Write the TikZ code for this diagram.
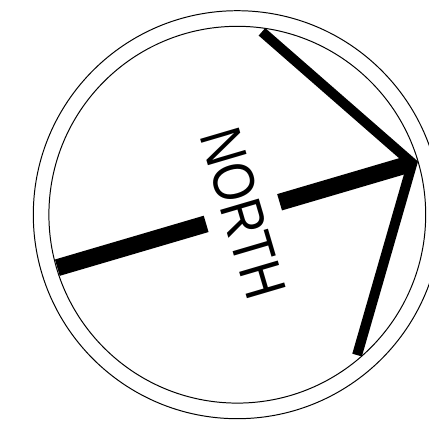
\documentclass[tikz,border=0pt]{standalone}
\usepackage{fontspec}
\setmainfont{Liberation Sans}
\begin{document}
\begin{tikzpicture}[
    ring/.style={line width=0.7pt},
    shaft/.style={line width=12.1pt},
    barb/.style={line width=7.1pt, line join=miter},
    word/.style={inner sep=0pt, minimum height=1.9cm,
      font=\fontsize{41.6}{42}\selectfont}]
  \useasboundingbox (-5.9325,-5.3575) rectangle (4.7925,5.3675);

  \coordinate (centre) at (0,0);
  \draw[ring] (centre) circle (5.1);
  \draw[ring] (centre) circle (4.71);

  \begin{scope}[rotate=-73.6, transform shape]
    \coordinate (tail) at (0,-4.69);
    \coordinate (tip) at (0,4.5625);
    \coordinate (leftend) at (-4.2125,1.8825);
    \coordinate (rightend) at (4.2125,1.8825);
    \node[word] (label) at (0,0.145) {\scalebox{0.84}[1]{NORTH}};

    \draw[shaft] (tail) -- (label);
    \draw[shaft] (label) -- (tip);
    \draw[barb] (leftend) -- (tip) -- (rightend);
  \end{scope}
\end{tikzpicture}
\end{document}
